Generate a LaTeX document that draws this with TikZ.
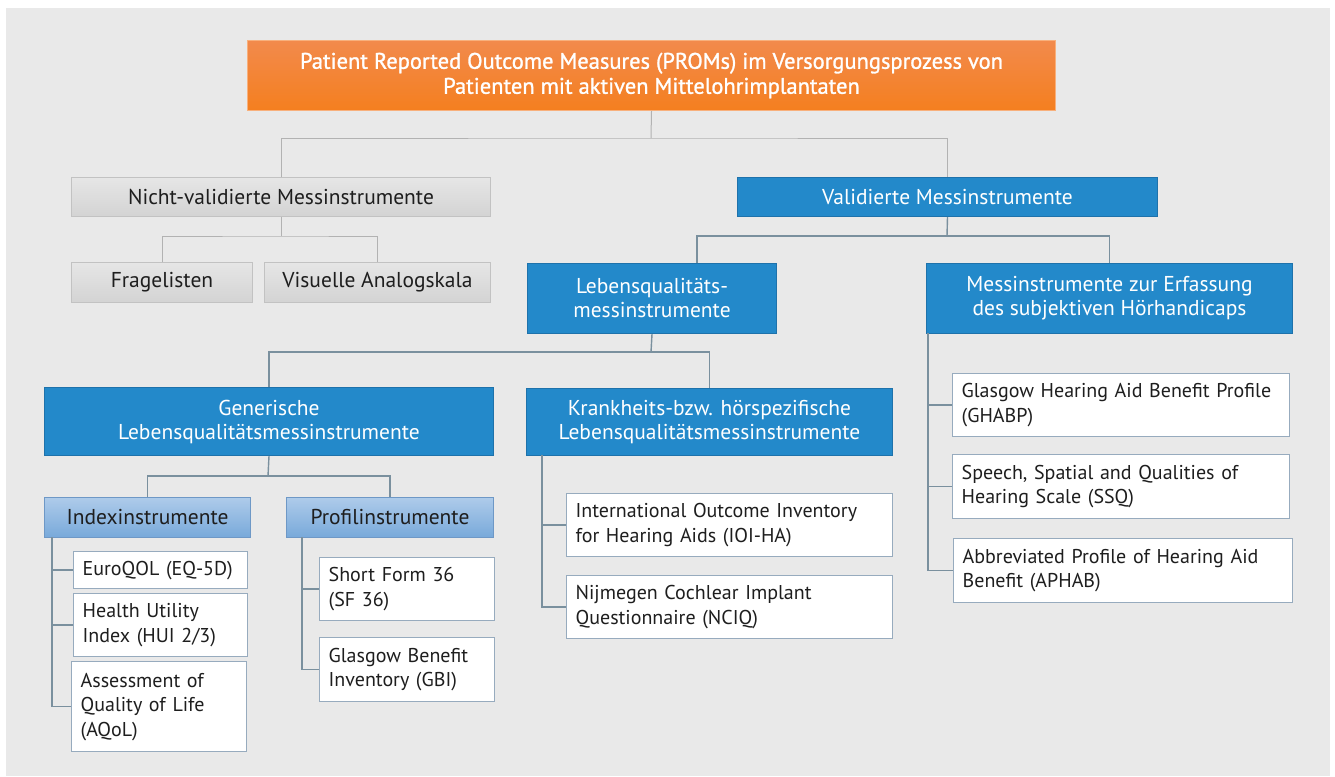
\documentclass[tikz,border=0pt]{standalone}
\usepackage{fontspec}
\setmainfont{PT Sans}
\newfontfamily\medfont{PT Sans}[FakeBold=1.2]
\usetikzlibrary{calc}
\definecolor{bg}{HTML}{E9E9E9}
\definecolor{orangeT}{HTML}{F28A4C}
\definecolor{orangeB}{HTML}{F47F1F}
\definecolor{orangeD}{HTML}{F8B07C}
\definecolor{blueF}{HTML}{2389CA}
\definecolor{blueD}{HTML}{1E72AB}
\definecolor{lbT}{HTML}{AECBEA}
\definecolor{lbB}{HTML}{78A9DA}
\definecolor{lbD}{HTML}{6E98C6}
\definecolor{grT}{HTML}{E6E6E6}
\definecolor{grB}{HTML}{D3D3D3}
\definecolor{grD}{HTML}{C2C2C2}
\definecolor{wD}{HTML}{97ABBE}
\definecolor{lineG}{HTML}{B2B2B2}
\definecolor{lineB}{HTML}{7A909E}
\definecolor{txt}{HTML}{1E1E1E}
\tikzset{
  base/.style={anchor=north west, inner sep=0pt, align=center, font=\fontsize{21.5}{24}\selectfont},
  orangebox/.style={base, top color=orangeT, bottom color=orangeB, draw=orangeD, line width=1pt, text=white, font=\fontsize{22.5}{25}\selectfont\medfont},
  graybox/.style={base, top color=grT, bottom color=grB, draw=grD, line width=1pt, text=txt},
  bluebox/.style={base, fill=blueF, draw=blueD, line width=1pt, text=white},
  lbbox/.style={base, top color=lbT, bottom color=lbB, draw=lbD, line width=1pt, text=txt},
  wbox/.style={base, fill=white, draw=wD, line width=1.3pt, text=txt, align=left, inner xsep=9pt, font=\fontsize{20}{24.5}\selectfont},
  gline/.style={draw=lineG, line width=1pt},
  bline/.style={draw=lineB, line width=1.4pt},
}
\begin{document}
\begin{tikzpicture}[x=1pt,y=-1pt]
\useasboundingbox (0,0) rectangle (1335,776);
\fill[bg] (6,8) rectangle (1330,776);

% nodes
\node[orangebox, minimum width=808, minimum height=70] (prom) at (247,40)
  {Patient Reported Outcome Measures (PROMs) im Versorgungsprozess von\\Patienten mit aktiven Mittelohrimplantaten};
\node[graybox, minimum width=419, minimum height=39] (nval) at (71,177) {Nicht-validierte Messinstrumente};
\node[graybox, minimum width=181, minimum height=40] (frag) at (71,262) {Fragelisten};
\node[graybox, minimum width=226, minimum height=40] (vas) at (264,262) {Visuelle Analogskala};
\node[bluebox, minimum width=420, minimum height=39] (val) at (737,177) {Validierte Messinstrumente};
\node[bluebox, minimum width=249, minimum height=70] (leb) at (527,263) {Lebensqualitäts-\\messinstrumente};
\node[bluebox, minimum width=366, minimum height=70] (mess) at (926,263) {Messinstrumente zur Erfassung\\des subjektiven Hörhandicaps};
\node[bluebox, minimum width=449, minimum height=68] (gen) at (44,387) {Generische\\Lebensqualitätsmessinstrumente};
\node[bluebox, minimum width=366, minimum height=67] (krank) at (526,388) {Krankheits-bzw. hörspezifische\\Lebensqualitätsmessinstrumente};
\node[lbbox, minimum width=206, minimum height=40] (index) at (44,497) {Indexinstrumente};
\node[lbbox, minimum width=207, minimum height=40] (profil) at (286,497) {Profilinstrumente};

\node[wbox, minimum width=174, minimum height=37, text width=156] (euro) at (73,551) {EuroQOL (EQ-5D)};
\node[wbox, minimum width=174, minimum height=63, text width=156] (hui) at (73,593) {Health Utility\\Index (HUI 2/3)};
\node[wbox, minimum width=175, minimum height=90, text width=157] (aqol) at (71,661) {Assessment of\\Quality of Life\\(AQoL)};
\node[wbox, minimum width=175, minimum height=63, text width=157] (sf) at (319,557) {Short Form 36\\(SF 36)};
\node[wbox, minimum width=175, minimum height=64, text width=157] (gbi) at (319,637) {Glasgow Benefit\\Inventory (GBI)};
\node[wbox, minimum width=326, minimum height=63, text width=308] (ioi) at (566,493) {International Outcome Inventory\\for Hearing Aids (IOI-HA)};
\node[wbox, minimum width=326, minimum height=63, text width=308] (nciq) at (566,575) {Nijmegen Cochlear Implant\\Questionnaire (NCIQ)};
\node[wbox, minimum width=337, minimum height=63, text width=319] (ghabp) at (952,373) {Glasgow Hearing Aid Benefit Profile\\(GHABP)};
\node[wbox, minimum width=337, minimum height=64, text width=319] (ssq) at (952,454) {Speech, Spatial and Qualities of\\Hearing Scale (SSQ)};
\node[wbox, minimum width=339, minimum height=64, text width=321] (aphab) at (953,538) {Abbreviated Profile of Hearing Aid\\Benefit (APHAB)};

% junctions
\coordinate (j1) at (651,138);
\coordinate (j2) at (281,236);
\coordinate (j3) at (947,236);
\coordinate (d3) at (697,263);
\coordinate (j4) at (651,352);
\coordinate (j5) at (268,476);
\coordinate (s1) at (52,537);
\coordinate (s2) at (302,537);
\coordinate (s3) at (542,455);
\coordinate (s4) at (928,333);

% connectors
\draw[gline] (prom.south) -- (j1);
\draw[gline] (nval.north) |- (j1) -| (val.north);
\draw[gline] (nval.south) -- (j2);
\draw[gline] (frag.north) |- (j2) -| (vas.north);

\draw[bline] (val.south) -- (j3);
\draw[bline] (d3) |- (j3) -| (mess.north);
\draw[bline] (leb.south) -- (j4);
\draw[bline] (gen.north) |- (j4) -| (krank.north);
\draw[bline] (gen.south) -- (j5);
\draw[bline] (index.north) |- (j5) -| (profil.north);

\draw[bline] (s1) |- (aqol.west);
\draw[bline] (s1 |- euro.west) -- (euro.west);
\draw[bline] (s1 |- hui.west) -- (hui.west);
\draw[bline] (s2) |- (gbi.west);
\draw[bline] (s2 |- sf.west) -- (sf.west);
\draw[bline] (s3) |- (nciq.west);
\draw[bline] (s3 |- ioi.west) -- (ioi.west);
\draw[bline] (s4) |- (aphab.west);
\draw[bline] (s4 |- ghabp.west) -- (ghabp.west);
\draw[bline] (s4 |- ssq.west) -- (ssq.west);
\end{tikzpicture}
\end{document}
